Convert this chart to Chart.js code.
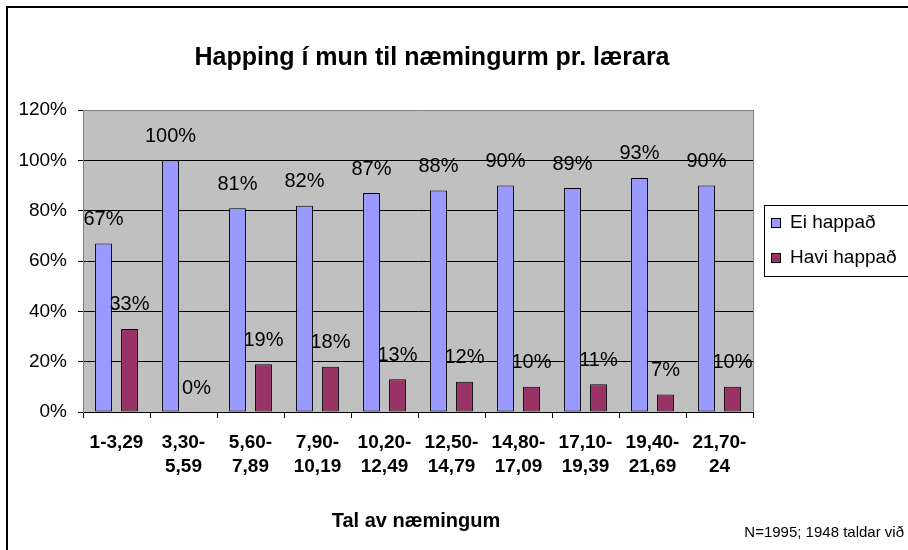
<!DOCTYPE html>
<html><head><meta charset="utf-8">
<script src="https://cdn.jsdelivr.net/npm/chart.js@4.4.1/dist/chart.umd.min.js"></script>
<style>html,body{margin:0;padding:0;background:#fff}#wrap{width:908px;height:550px;position:relative}</style>
</head><body><div id="wrap"><canvas id="c" width="908" height="550"></canvas></div>
<script>
const categories = [["1-3,29"],["3,30-","5,59"],["5,60-","7,89"],["7,90-","10,19"],["10,20-","12,49"],["12,50-","14,79"],["14,80-","17,09"],["17,10-","19,39"],["19,40-","21,69"],["21,70-","24"]];
const eiHappad = [67,100,81,82,87,88,90,89,93,90];
const haviHappad = [33,0,19,18,13,12,10,11,7,10];
const seriesNames = ["Ei happað","Havi happað"];
const seriesColors = ["#9999FF","#993366"];
const titleText = "Happing í mun til næmingurm pr. lærara";
const xTitle = "Tal av næmingum";
const noteText = "N=1995; 1948 taldar við";
const FONT = "'Liberation Sans', Arial, sans-serif";

const decor = {
  id: 'decor',
  beforeDraw(chart) {
    const {ctx, chartArea: a} = chart;
    ctx.save();
    ctx.fillStyle = '#C0C0C0';
    ctx.fillRect(a.left, a.top, a.right - a.left, a.bottom - a.top);
    ctx.restore();
  },
  beforeDatasetsDraw(chart) {
    const {ctx, chartArea: a} = chart;
    ctx.save();
    ctx.strokeStyle = '#808080';
    ctx.lineWidth = 1;
    ctx.beginPath();
    ctx.moveTo(a.right + 0.5, a.top);
    ctx.lineTo(a.right + 0.5, a.bottom);
    ctx.stroke();
    ctx.restore();
  },
  afterDatasetsDraw(chart) {
    const {ctx} = chart;
    ctx.save();
    ctx.font = "20px " + FONT;
    ctx.fillStyle = '#000';
    ctx.textAlign = 'center';
    ctx.textBaseline = 'middle';
    chart.data.datasets.forEach((ds, i) => {
      const meta = chart.getDatasetMeta(i);
      meta.data.forEach((bar, j) => {
        ctx.fillText(ds.data[j] + '%', bar.x, bar.y - 24);
      });
    });
    ctx.restore();
  },
  afterDraw(chart) {
    const {ctx} = chart;
    ctx.save();
    ctx.strokeStyle = '#000';
    ctx.lineWidth = 2;
    ctx.strokeRect(7, 7, 1000, 1000);
    ctx.fillStyle = '#000';
    ctx.textAlign = 'center';
    ctx.textBaseline = 'middle';
    ctx.font = "bold 25px " + FONT;
    ctx.fillText(titleText, 432, 58);
    ctx.font = "bold 20px " + FONT;
    ctx.fillText(xTitle, 416, 521);
    ctx.font = "15px " + FONT;
    ctx.textAlign = 'right';
    ctx.fillText(noteText, 904, 533);
    ctx.lineWidth = 1;
    ctx.fillStyle = '#fff';
    ctx.fillRect(764.5, 205.5, 200, 71);
    ctx.strokeStyle = '#000';
    ctx.strokeRect(764.5, 205.5, 200, 71);
    const ys = [223, 258];
    seriesNames.forEach((n, i) => {
      ctx.fillStyle = seriesColors[i];
      ctx.fillRect(771.5, ys[i] - 4.5, 9, 9);
      ctx.strokeRect(771.5, ys[i] - 4.5, 9, 9);
      ctx.fillStyle = '#000';
      ctx.textAlign = 'left';
      ctx.font = "19px " + FONT;
      ctx.fillText(n, 790, ys[i]);
    });
    ctx.restore();
  }
};

new Chart(document.getElementById('c'), {
  type: 'bar',
  data: {
    labels: categories,
    datasets: [
      {label: seriesNames[0], data: eiHappad, backgroundColor: seriesColors[0], borderColor: '#000', borderWidth: 1, borderSkipped: false, categoryPercentage: 0.776, barPercentage: 0.65},
      {label: seriesNames[1], data: haviHappad, backgroundColor: seriesColors[1], borderColor: '#000', borderWidth: 1, borderSkipped: false, categoryPercentage: 0.776, barPercentage: 0.65}
    ]
  },
  options: {
    responsive: false,
    animation: false,
    devicePixelRatio: 1,
    layout: {padding: {left: 8, top: 110, right: 155, bottom: 0}},
    plugins: {legend: {display: false}, tooltip: {enabled: false}, title: {display: false}},
    scales: {
      x: {
        afterFit(s) { s.height = 138; },
        grid: {offset: true, drawOnChartArea: false, drawTicks: true, tickLength: 6, color: '#000', tickColor: '#000'},
        border: {display: true, color: '#000', width: 1},
        ticks: {font: {family: FONT, size: 19, weight: 'bold', lineHeight: 1.3}, color: '#000', padding: 12, maxRotation: 0, minRotation: 0, autoSkip: false}
      },
      y: {
        min: 0, max: 120,
        afterFit(s) { s.width = 75; },
        grid: {color: c => (c.tick && c.tick.value === 120) ? '#808080' : '#000', tickColor: '#000', tickLength: 5, drawTicks: true},
        border: {display: true, color: '#808080', width: 1},
        ticks: {stepSize: 20, callback: v => v + '%', font: {family: FONT, size: 19}, color: '#000', padding: 11}
      }
    }
  },
  plugins: [decor]
});
</script></body></html>
